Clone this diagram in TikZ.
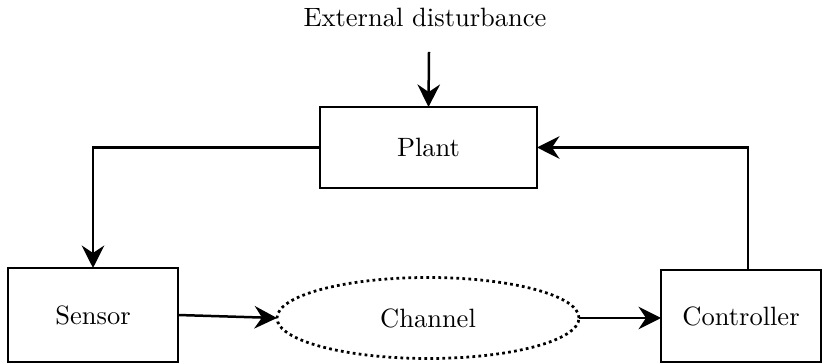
\documentclass[tikz,border=0pt]{standalone}
\usetikzlibrary{arrows.meta,shapes.geometric}
\begin{document}
\begin{tikzpicture}[x=0.4pt,y=-0.4pt,
  every node/.style={font=\fontsize{10.6}{12.7}\selectfont},
  box/.style={draw,line width=1pt,inner sep=0pt,outer sep=0pt},
  chan/.style={draw,ellipse,line width=1.1pt,dash pattern=on 1.1pt off 1.3pt,inner sep=0pt,outer sep=0pt,minimum width=120.8pt,minimum height=32.4pt},
  arr/.style={line width=1pt,-{Stealth[length=9pt,width=9pt,inset=3pt]}}]
\useasboundingbox (0,0) rectangle (825,364);
\node (dtext) at (425,17) {External disturbance};
\coordinate (dtop) at (429,52);
\node[box,minimum width=86.8pt,minimum height=32.4pt] (plant) at (428.5,147.5) {Plant};
\node[box,minimum width=68pt,minimum height=37.6pt] (sensor) at (93,315) {Sensor};
\node[chan] (channel) at (428,318) {Channel};
\node[box,minimum width=64pt,minimum height=36.8pt] (controller) at (741,316) {Controller};
\coordinate (cup) at (748,270);
\draw[arr] (dtop) -- (plant.north);
\draw[arr] (plant.west) -| (sensor.north);
\draw[arr] (sensor.east) -- (channel.west);
\draw[arr] (channel.east) -- (channel.east -| controller.west);
\draw[arr] (cup) |- (plant.east);
\end{tikzpicture}
\end{document}
